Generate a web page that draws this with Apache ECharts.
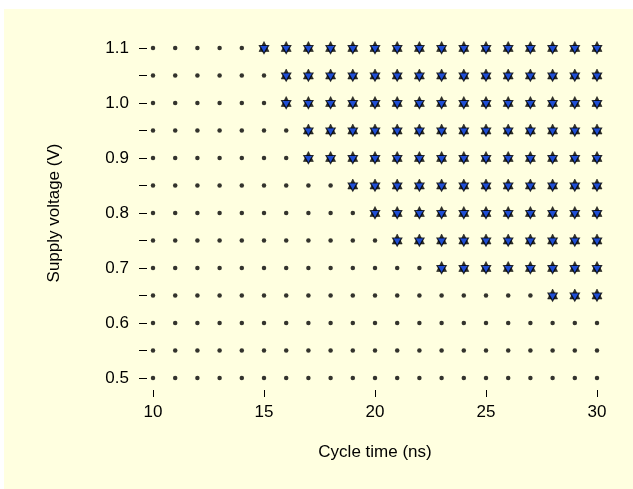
<!DOCTYPE html>
<html>
<head>
<meta charset="utf-8">
<script src="https://cdn.jsdelivr.net/npm/echarts@6/dist/echarts.min.js"></script>
<style>
  html, body { margin: 0; padding: 0; background: #ffffff; }
  #bg { position: absolute; left: 4px; top: 9px; width: 629px; height: 480px; background: #FFFFE0; }
  #chart { position: absolute; left: 0; top: 0; width: 633px; height: 489px; }
</style>
</head>
<body>
<div id="bg"></div>
<div id="chart"></div>
<script>
// ---- data ----
const cycleTimes = [10, 11, 12, 13, 14, 15, 16, 17, 18, 19, 20, 21, 22, 23, 24, 25, 26, 27, 28, 29, 30];
const voltages   = [0.5, 0.55, 0.6, 0.65, 0.7, 0.75, 0.8, 0.85, 0.9, 0.95, 1.0, 1.05, 1.1];
// shortest passing cycle time for each voltage (null = no pass)
const minPassingCycle = [null, null, null, 28, 23, 21, 20, 19, 17, 17, 16, 16, 15];
const xTicks = [10, 15, 20, 25, 30];
const yTickLabels = ['0.5', '0.6', '0.7', '0.8', '0.9', '1.0', '1.1'];

const failPts = [];
const passPts = [];
voltages.forEach((v, i) => {
  const thr = minPassingCycle[i];
  cycleTimes.forEach(t => {
    if (thr !== null && t >= thr) passPts.push([t, v]);
    else failPts.push([t, v]);
  });
});

const FONT = 'Liberation Sans';
const chart = echarts.init(document.getElementById('chart'), null, { renderer: 'canvas' });
chart.setOption({
  backgroundColor: 'transparent',
  animation: false,
  grid: { left: 153, top: 48, width: 444, height: 330 },
  xAxis: {
    type: 'value',
    min: xTicks[0], max: xTicks[xTicks.length - 1], interval: 5,
    offset: 12,
    name: 'Cycle time (ns)',
    nameLocation: 'middle',
    nameGap: 54,
    nameTextStyle: { fontFamily: FONT, fontSize: 17, color: '#000' },
    axisLine: { show: false },
    axisTick: { show: true, length: 7, inside: false, lineStyle: { color: '#000', width: 1 } },
    axisLabel: { margin: 14, fontFamily: FONT, fontSize: 17, color: '#000' },
    splitLine: { show: false }
  },
  yAxis: {
    type: 'value',
    min: 0.5, max: 1.1, interval: 0.05,
    offset: 6,
    name: 'Supply voltage (V)',
    nameLocation: 'middle',
    nameGap: 84,
    nameTextStyle: { fontFamily: FONT, fontSize: 17, color: '#000' },
    axisLine: { show: false },
    axisTick: { show: true, length: 8, inside: false, lineStyle: { color: '#000', width: 1 } },
    axisLabel: {
      margin: 18, fontFamily: FONT, fontSize: 17, color: '#000',
      formatter: function (val) {
        const s = val.toFixed(1);
        return (Math.abs(val * 10 - Math.round(val * 10)) < 1e-6 && yTickLabels.indexOf(s) >= 0) ? s : '';
      }
    },
    splitLine: { show: false }
  },
  series: [
    {
      type: 'scatter', clip: false,
      data: failPts,
      symbol: 'circle', symbolSize: 4.5,
      itemStyle: { color: '#000' }
    },
    {
      type: 'scatter', clip: false,
      data: passPts,
      symbol: 'triangle', symbolSize: [10, 10], symbolOffset: [0, -1.5],
      itemStyle: { color: '#000', borderColor: '#000', borderWidth: 0.6 },
      z: 3
    },
    {
      type: 'scatter', clip: false,
      data: passPts,
      symbol: 'triangle', symbolRotate: 180, symbolSize: [9, 8], symbolOffset: [0, 1.5],
      itemStyle: { color: '#1A55FF', borderColor: '#000', borderWidth: 1.3 },
      z: 4
    }
  ]
});
</script>
</body>
</html>
